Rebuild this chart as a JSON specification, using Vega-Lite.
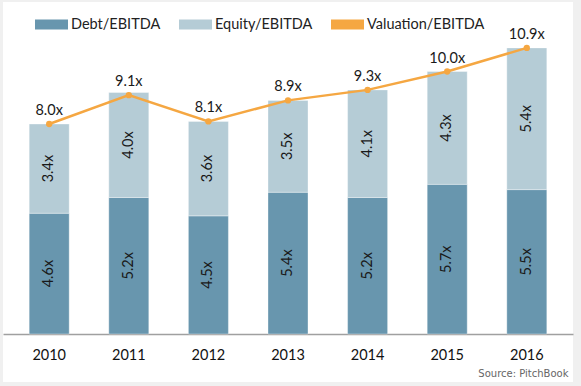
{
  "$schema": "https://vega.github.io/schema/vega-lite/v6.json",
  "width": 570,
  "height": 380,
  "autosize": {"type": "none"},
  "padding": {"left": 3, "top": 2, "right": 8, "bottom": 4},
  "background": "#f0f0f0",
  "config": {"view": {"fill": "white", "stroke": null}, "font": "Lato"},
  "datasets": {
    "bars": [
      {"year": "2010", "series": "Debt/EBITDA", "value": 4.6},
      {"year": "2010", "series": "Equity/EBITDA", "value": 3.4},
      {"year": "2011", "series": "Debt/EBITDA", "value": 5.2},
      {"year": "2011", "series": "Equity/EBITDA", "value": 4.0},
      {"year": "2012", "series": "Debt/EBITDA", "value": 4.5},
      {"year": "2012", "series": "Equity/EBITDA", "value": 3.6},
      {"year": "2013", "series": "Debt/EBITDA", "value": 5.4},
      {"year": "2013", "series": "Equity/EBITDA", "value": 3.5},
      {"year": "2014", "series": "Debt/EBITDA", "value": 5.2},
      {"year": "2014", "series": "Equity/EBITDA", "value": 4.1},
      {"year": "2015", "series": "Debt/EBITDA", "value": 5.7},
      {"year": "2015", "series": "Equity/EBITDA", "value": 4.3},
      {"year": "2016", "series": "Debt/EBITDA", "value": 5.5},
      {"year": "2016", "series": "Equity/EBITDA", "value": 5.4}
    ],
    "val": [
      {"year": "2010", "valuation": 8.0},
      {"year": "2011", "valuation": 9.1},
      {"year": "2012", "valuation": 8.1},
      {"year": "2013", "valuation": 8.9},
      {"year": "2014", "valuation": 9.3},
      {"year": "2015", "valuation": 10.0},
      {"year": "2016", "valuation": 10.9}
    ]
  },
  "encoding": {
    "x": {
      "field": "year",
      "type": "ordinal",
      "scale": {"paddingInner": 0.4975, "paddingOuter": 0.329},
      "axis": {
        "title": "Source: PitchBook",
        "offset": -48,
        "labelAngle": 0,
        "ticks": false,
        "tickSize": 0,
        "labelPadding": 21,
        "labelBaseline": "middle",
        "labelFont": "Lato",
        "labelFontSize": 14.5,
        "labelColor": "#111111",
        "domainColor": "#a0a0a0",
        "domainWidth": 1.3,
        "grid": false,
        "titleX": 565,
        "titleY": 39,
        "titleAlign": "right",
        "titleBaseline": "middle",
        "titleFont": "DejaVu Sans",
        "titleFontSize": 10,
        "titleFontWeight": "normal",
        "titleColor": "#666666"
      }
    }
  },
  "layer": [
    {
      "data": {"name": "bars"},
      "mark": {"type": "bar", "stroke": "white", "strokeOpacity": 0.35, "strokeWidth": 1},
      "encoding": {
        "y": {
          "field": "value",
          "type": "quantitative",
          "stack": "zero",
          "scale": {"domain": [-1.829, 12.648], "nice": false, "zero": false},
          "axis": null
        },
        "order": {"field": "series", "sort": "ascending"},
        "color": {
          "field": "series",
          "type": "nominal",
          "scale": {
            "domain": ["Debt/EBITDA", "Equity/EBITDA", "Valuation/EBITDA"],
            "range": ["#6896AE", "#B5CCD6", "#F5A742"]
          },
          "legend": {
            "orient": "none",
            "legendX": 32,
            "legendY": 6,
            "direction": "horizontal",
            "title": null,
            "padding": 0,
            "symbolSize": 1089,
            "symbolType": "M-1,-0.3H1V0.3H-1Z",
            "symbolStrokeWidth": 0,
            "labelFont": "Lato",
            "labelFontSize": 14.5,
            "labelColor": "#222222",
            "labelOffset": 3,
            "columnPadding": 18,
            "labelLimit": 300,
            "encode": {
              "symbols": {
                "update": {
                  "shape": {"signal": "datum.value === 'Valuation/EBITDA' ? 'M-1,0H1M-0.21,0A0.21,0.21,0,1,1,0.21,0A0.21,0.21,0,1,1,-0.21,0Z' : 'M-1,-0.3H1V0.3H-1Z'"},
                  "strokeWidth": {"signal": "datum.value === 'Valuation/EBITDA' ? 2.5 : 0"},
                  "fill": {"scale": "color", "field": "value"},
                  "stroke": {"scale": "color", "field": "value"},
                  "fillOpacity": {"value": 1},
                  "strokeOpacity": {"value": 1},
                  "opacity": {"value": 1}
                }
              }
            }
          }
        }
      }
    },
    {
      "data": {"name": "bars"},
      "transform": [
        {"stack": "value", "groupby": ["year"], "sort": [{"field": "series"}], "as": ["v0", "v1"]},
        {"fold": ["v0", "v1"], "as": ["edge", "pos"]},
        {"aggregate": [{"op": "mean", "field": "pos", "as": "mid"}], "groupby": ["year", "series", "value"]}
      ],
      "mark": {
        "type": "text",
        "angle": 270,
        "align": "center",
        "baseline": "middle",
        "font": "Lato",
        "fontSize": 14.5,
        "color": "#1a1a1a",
        "text": {"expr": "format(datum.value, '.1f') + 'x'"}
      },
      "encoding": {
        "y": {"field": "mid", "type": "quantitative", "axis": null}
      }
    },
    {
      "data": {"name": "val"},
      "mark": {"type": "line", "strokeWidth": 2.5, "point": {"filled": true, "size": 40}},
      "encoding": {
        "y": {"field": "valuation", "type": "quantitative", "axis": null},
        "color": {"datum": "Valuation/EBITDA", "type": "nominal"}
      }
    },
    {
      "data": {"name": "val"},
      "mark": {
        "type": "text",
        "align": "center",
        "baseline": "middle",
        "dy": -13,
        "font": "Lato",
        "fontSize": 14.5,
        "color": "#1a1a1a",
        "text": {"expr": "format(datum.valuation, '.1f') + 'x'"}
      },
      "encoding": {
        "y": {"field": "valuation", "type": "quantitative", "axis": null}
      }
    }
  ]
}
